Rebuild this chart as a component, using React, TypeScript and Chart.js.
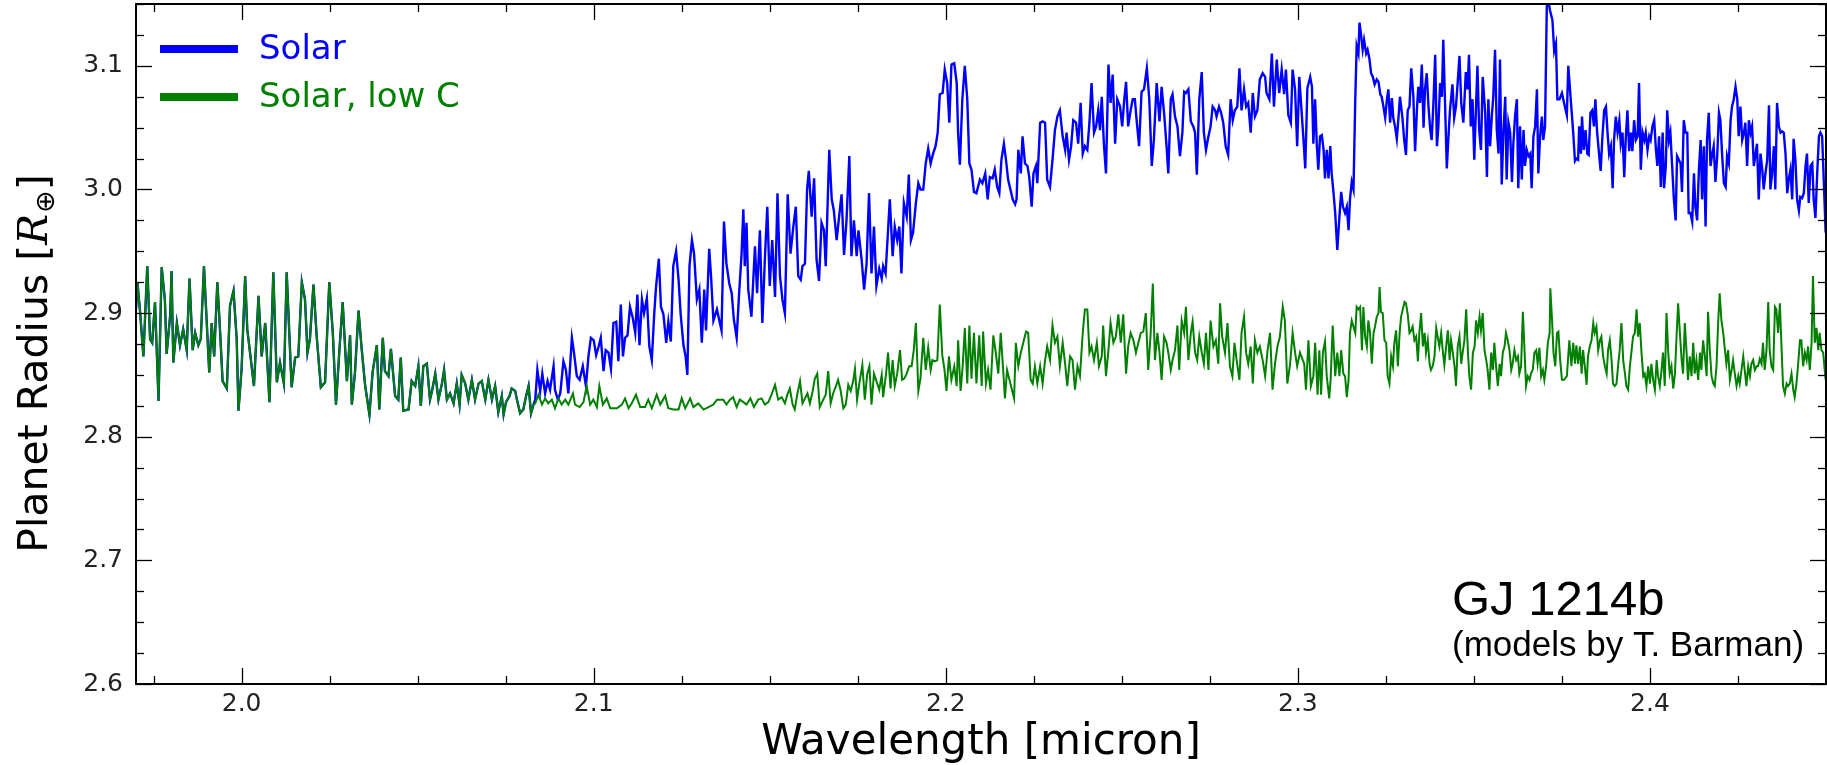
import React, { useEffect, useRef } from "react";
import { Chart, registerables } from "chart.js";

Chart.register(...registerables);

// ---- axis ticks / labels ----
const xTicks = [2.0, 2.1, 2.2, 2.3, 2.4];
const yTicks = [2.6, 2.7, 2.8, 2.9, 3.0, 3.1];
const seriesNames = ["Solar", "Solar, low C"];
const seriesColors = ["#0000ff", "#008000"];
const xTitle = "Wavelength [micron]";
const annotTitle = "GJ 1214b";
const annotSub = "(models by T. Barman)";

// ---- data: [wavelength (micron), planet radius (R_earth)] ----
// part common to both models (1.97 - 2.083 micron)
const sharedPts = [
  [1.9700,2.903],[1.9704,2.925],[1.9711,2.903],[1.9721,2.865],[1.9732,2.938],[1.9740,2.879],[1.9746,2.876],[1.9754,2.909],
  [1.9764,2.829],[1.9773,2.937],[1.9782,2.911],[1.9787,2.867],[1.9797,2.898],[1.9801,2.934],[1.9806,2.860],[1.9816,2.892],
  [1.9825,2.874],[1.9834,2.887],[1.9844,2.870],[1.9852,2.928],[1.9861,2.870],[1.9868,2.884],[1.9877,2.874],[1.9884,2.879],
  [1.9893,2.938],[1.9908,2.852],[1.9915,2.892],[1.9922,2.865],[1.9931,2.925],[1.9937,2.895],[1.9946,2.845],[1.9958,2.839],
  [1.9967,2.906],[1.9977,2.918],[1.9986,2.879],[1.9991,2.821],[2.0000,2.855],[2.0010,2.930],[2.0016,2.887],[2.0026,2.863],
  [2.0035,2.841],[2.0048,2.914],[2.0057,2.865],[2.0067,2.892],[2.0079,2.828],[2.0090,2.933],[2.0100,2.844],[2.0109,2.860],
  [2.0120,2.843],[2.0128,2.933],[2.0142,2.840],[2.0152,2.864],[2.0161,2.865],[2.0171,2.925],[2.0180,2.911],[2.0187,2.868],
  [2.0194,2.879],[2.0204,2.923],[2.0213,2.882],[2.0225,2.840],[2.0237,2.844],[2.0249,2.925],[2.0259,2.884],[2.0268,2.826],
  [2.0278,2.871],[2.0287,2.909],[2.0299,2.845],[2.0308,2.882],[2.0313,2.826],[2.0322,2.852],[2.0332,2.902],[2.0341,2.871],
  [2.0351,2.841],[2.0363,2.818],[2.0372,2.852],[2.0384,2.874],[2.0391,2.822],[2.0401,2.880],[2.0407,2.853],[2.0417,2.849],
  [2.0424,2.871],[2.0436,2.833],[2.0445,2.830],[2.0452,2.864],[2.0459,2.821],[2.0474,2.822],[2.0483,2.845],[2.0493,2.841],
  [2.0502,2.857],[2.0509,2.825],[2.0516,2.857],[2.0526,2.859],[2.0535,2.830],[2.0540,2.836],[2.0550,2.851],[2.0559,2.830],
  [2.0569,2.843],[2.0575,2.854],[2.0583,2.830],[2.0592,2.835],[2.0602,2.827],[2.0611,2.843],[2.0619,2.826],[2.0625,2.850],
  [2.0635,2.843],[2.0644,2.830],[2.0654,2.846],[2.0663,2.830],[2.0673,2.843],[2.0682,2.845],[2.0692,2.830],[2.0701,2.846],
  [2.0711,2.830],[2.0720,2.841],[2.0729,2.820],[2.0739,2.833],[2.0744,2.818],[2.0751,2.828],[2.0761,2.833],[2.0767,2.839],
  [2.0777,2.837],[2.0782,2.830],[2.0791,2.819],[2.0800,2.822],[2.0808,2.833],[2.0815,2.841],[2.0822,2.819],[2.0829,2.826],
];

// "Solar" model after the split
const solarPtsA = [
  [2.0834,2.830],[2.0840,2.854],[2.0848,2.837],[2.0854,2.851],[2.0862,2.835],[2.0869,2.845],[2.0876,2.838],[2.0886,2.857],
  [2.0890,2.838],[2.0898,2.830],[2.0905,2.835],[2.0914,2.861],[2.0921,2.854],[2.0928,2.835],[2.0938,2.880],[2.0944,2.868],
  [2.0952,2.849],[2.0960,2.846],[2.0969,2.857],[2.0978,2.841],[2.0985,2.865],[2.0992,2.880],[2.1000,2.878],[2.1007,2.866],
  [2.1014,2.873],[2.1020,2.880],[2.1028,2.853],[2.1034,2.870],[2.1042,2.868],[2.1049,2.855],[2.1056,2.892],[2.1064,2.893],
  [2.1070,2.861],[2.1077,2.907],[2.1083,2.865],[2.1089,2.880],[2.1096,2.882],[2.1103,2.905],[2.1111,2.896],[2.1118,2.884],
  [2.1124,2.915],[2.1130,2.874],[2.1137,2.911],[2.1143,2.900],[2.1151,2.912],[2.1158,2.873],[2.1165,2.862],[2.1172,2.900],
  [2.1177,2.921],[2.1185,2.944],[2.1191,2.905],[2.1198,2.899],[2.1206,2.876],[2.1212,2.893],[2.1219,2.877],[2.1226,2.938],
  [2.1234,2.950],[2.1241,2.927],[2.1247,2.899],[2.1255,2.874],[2.1261,2.865],[2.1266,2.850],[2.1272,2.938],[2.1279,2.959],
  [2.1285,2.948],[2.1293,2.911],[2.1300,2.919],[2.1307,2.876],[2.1314,2.919],[2.1319,2.886],[2.1328,2.952],[2.1333,2.931],
  [2.1340,2.894],[2.1350,2.903],
];
const solarPtsB = [
  [2.1363,2.886],[2.1370,2.974],[2.1377,2.940],[2.1385,2.924],[2.1392,2.916],[2.1398,2.895],[2.1406,2.880],[2.1413,2.916],
  [2.1420,2.948],[2.1425,2.984],[2.1429,2.938],[2.1434,2.973],[2.1439,2.919],[2.1448,2.897],[2.1458,2.954],[2.1464,2.916],
  [2.1472,2.967],[2.1479,2.892],[2.1486,2.943],[2.1493,2.986],[2.1500,2.922],[2.1507,2.959],[2.1515,2.913],[2.1522,2.997],
  [2.1529,2.930],[2.1536,2.911],[2.1543,2.900],[2.1551,2.996],[2.1559,2.948],[2.1567,2.970],[2.1574,2.986],[2.1581,2.930],
  [2.1588,2.927],[2.1593,2.938],[2.1600,2.940],[2.1606,3.000],[2.1611,3.015],[2.1619,2.978],[2.1626,3.009],[2.1633,2.943],
  [2.1640,2.926],[2.1647,2.973],[2.1654,2.967],[2.1659,2.938],[2.1663,2.975],[2.1669,3.032],[2.1676,2.992],[2.1682,2.983],
  [2.1690,2.959],[2.1697,2.978],[2.1704,2.996],[2.1711,2.947],[2.1718,2.975],[2.1726,3.027],[2.1732,2.946],[2.1739,2.975],
  [2.1747,2.946],[2.1752,2.967],[2.1761,2.943],[2.1768,2.919],[2.1775,2.940],[2.1782,2.997],[2.1789,2.932],[2.1796,2.970],
  [2.1803,2.922],[2.1811,2.936],[2.1818,2.928],[2.1822,2.938],[2.1829,2.932],[2.1836,2.967],[2.1841,2.992],[2.1849,2.946],
  [2.1855,2.970],[2.1862,2.959],[2.1868,2.970],[2.1874,2.932],[2.1881,2.989],[2.1889,2.978],[2.1895,3.012],[2.1901,2.959],
  [2.1907,2.965],[2.1915,2.989],[2.1922,3.005],[2.1928,3.000],[2.1936,3.000],[2.1943,3.021],[2.1950,3.033],[2.1957,3.021],
  [2.1964,3.029],[2.1971,3.035],[2.1977,3.046],[2.1983,3.077],[2.1991,3.078],[2.1997,3.097],[2.2004,3.086],[2.2010,3.054],
  [2.2016,3.101],[2.2024,3.102],[2.2031,3.086],[2.2035,3.046],[2.2040,3.020],[2.2047,3.073],[2.2054,3.100],[2.2061,3.073],
  [2.2067,3.021],[2.2073,3.016],[2.2080,2.998],[2.2087,2.997],[2.2097,3.008],[2.2104,3.005],[2.2112,3.013],[2.2119,2.992],
  [2.2125,3.010],[2.2133,3.009],[2.2139,3.016],[2.2146,3.002],[2.2152,2.997],[2.2158,3.024],[2.2165,3.037],[2.2171,3.024],
  [2.2177,3.008],
];
const solarPtsC = [
  [2.2190,2.992],[2.2197,2.988],[2.2201,2.992],[2.2206,3.032],[2.2213,3.013],[2.2218,3.043],[2.2225,3.021],[2.2232,3.019],
  [2.2237,3.010],[2.2244,2.986],[2.2249,3.013],[2.2256,3.019],[2.2260,3.005],[2.2268,3.054],[2.2275,3.055],[2.2282,3.054],
  [2.2288,3.008],[2.2296,3.002],[2.2304,3.027],[2.2310,3.048],[2.2317,3.059],[2.2324,3.064],[2.2332,3.043],[2.2339,3.032],
  [2.2343,3.046],[2.2350,3.024],[2.2356,3.035],[2.2362,3.056],[2.2370,3.054],[2.2376,3.037],[2.2383,3.070],[2.2389,3.029],
  [2.2395,3.035],[2.2402,3.032],[2.2408,3.054],[2.2414,3.086],[2.2421,3.046],[2.2427,3.051],[2.2433,3.064],[2.2438,3.048],
  [2.2443,3.075],[2.2449,3.037],[2.2455,3.013],[2.2462,3.101],[2.2468,3.070],[2.2474,3.093],[2.2481,3.037],[2.2487,3.073],
  [2.2495,3.067],[2.2501,3.051],[2.2507,3.073],[2.2512,3.087],[2.2518,3.051],[2.2525,3.064],[2.2531,3.073],[2.2537,3.073],
  [2.2542,3.056],[2.2549,3.035],[2.2556,3.079],[2.2563,3.081],[2.2571,3.098],[2.2578,3.073],[2.2585,3.019],[2.2591,3.040],
  [2.2599,3.086],[2.2607,3.055],[2.2613,3.083],[2.2620,3.062],[2.2627,3.035],[2.2632,3.013],[2.2639,3.073],[2.2644,3.077],
  [2.2651,3.059],[2.2658,3.051],[2.2665,3.027],[2.2672,3.046],[2.2677,3.079],[2.2682,3.078],[2.2689,3.081],[2.2696,3.055],
  [2.2703,3.051],[2.2708,3.046],[2.2713,3.012],[2.2720,3.073],[2.2727,3.095],[2.2733,3.046],[2.2739,3.032],[2.2746,3.043],
  [2.2752,3.051],[2.2758,3.067],[2.2765,3.064],[2.2769,3.059],[2.2776,3.067],[2.2782,3.062],[2.2788,3.054],[2.2795,3.035],
  [2.2802,3.028],[2.2809,3.073],[2.2815,3.056],[2.2821,3.064],[2.2828,3.067],[2.2834,3.098],[2.2840,3.064],[2.2847,3.081],
  [2.2853,3.067],[2.2859,3.070],[2.2866,3.046],[2.2872,3.078],[2.2878,3.059],[2.2885,3.064],[2.2892,3.089],[2.2900,3.094],
  [2.2907,3.091],[2.2911,3.078],[2.2919,3.073],[2.2926,3.110],[2.2932,3.067],[2.2940,3.105],[2.2947,3.078],[2.2954,3.097],
  [2.2961,3.077],[2.2966,3.097],[2.2973,3.060],[2.2980,3.054],[2.2985,3.097],[2.2992,3.081],[2.2998,3.035],[2.3004,3.091],
];
const solarPtsD = [
  [2.3016,3.040],[2.3021,3.017],[2.3027,3.082],[2.3035,3.091],[2.3040,3.083],[2.3044,3.037],[2.3049,3.073],[2.3054,3.035],
  [2.3058,3.016],[2.3063,3.043],[2.3068,3.044],[2.3073,3.032],[2.3077,3.009],[2.3082,3.032],[2.3087,3.009],[2.3092,3.035],
  [2.3096,3.013],[2.3101,2.998],[2.3106,2.981],[2.3112,2.951],[2.3118,2.978],[2.3123,2.998],[2.3128,2.986],[2.3134,2.981],
  [2.3139,2.986],[2.3144,2.967],[2.3148,2.992],[2.3153,3.006],[2.3158,3.000],[2.3163,3.073],[2.3167,3.116],[2.3172,3.110],
  [2.3175,3.135],[2.3179,3.126],[2.3184,3.113],[2.3188,3.121],[2.3194,3.110],[2.3198,3.113],[2.3203,3.106],[2.3208,3.094],
  [2.3213,3.091],[2.3218,3.085],[2.3224,3.089],[2.3229,3.087],[2.3234,3.077],[2.3238,3.075],[2.3243,3.067],[2.3248,3.058],
  [2.3253,3.073],[2.3257,3.081],[2.3262,3.054],[2.3267,3.074],[2.3271,3.058],[2.3276,3.051],[2.3281,3.041],[2.3286,3.059],
  [2.3290,3.075],[2.3297,3.058],[2.3302,3.040],[2.3307,3.028],[2.3312,3.064],[2.3317,3.067],[2.3322,3.098],[2.3328,3.075],
  [2.3333,3.031],[2.3338,3.064],[2.3342,3.083],[2.3347,3.070],[2.3352,3.101],[2.3357,3.050],[2.3361,3.081],[2.3366,3.094],
  [2.3371,3.067],[2.3376,3.048],[2.3380,3.040],[2.3385,3.070],[2.3390,3.109],[2.3395,3.035],[2.3399,3.051],[2.3404,3.086],
  [2.3409,3.075],[2.3413,3.121],[2.3418,3.070],[2.3423,3.017],[2.3428,3.044],[2.3432,3.064],[2.3439,3.085],[2.3444,3.058],
  [2.3449,3.067],[2.3454,3.087],[2.3459,3.108],[2.3464,3.070],[2.3470,3.054],[2.3477,3.095],[2.3482,3.081],[2.3486,3.109],
  [2.3491,3.051],[2.3496,3.073],[2.3501,3.024],[2.3505,3.059],[2.3510,3.100],[2.3515,3.048],[2.3520,3.032],[2.3525,3.091],
  [2.3532,3.062],[2.3537,3.010],[2.3541,3.073],[2.3546,3.035],[2.3551,3.060],[2.3555,3.075],[2.3560,3.113],[2.3565,3.048],
  [2.3570,3.029],[2.3574,3.105],[2.3579,3.004],[2.3584,3.048],[2.3589,3.075],[2.3593,3.008],[2.3598,3.054],[2.3603,3.046],
  [2.3608,3.006],[2.3612,3.037],[2.3617,3.060],[2.3622,3.073],[2.3626,3.001],[2.3631,3.051],[2.3636,3.008],[2.3641,3.048],
  [2.3645,3.019],[2.3650,3.032],[2.3655,3.027],[2.3660,3.029],[2.3664,3.001],[2.3669,3.043],[2.3674,3.051],[2.3679,3.081],
  [2.3683,3.013],[2.3688,3.043],[2.3693,3.059],[2.3697,3.040],[2.3702,3.051],[2.3707,3.148],[2.3712,3.152],[2.3716,3.145],
  [2.3723,3.137],[2.3728,3.112],[2.3733,3.118],[2.3737,3.073],[2.3743,3.073],[2.3750,3.078],[2.3756,3.070],[2.3764,3.060],
  [2.3768,3.100],
];
const solarPtsE = [
  [2.3782,3.046],[2.3787,3.023],[2.3791,3.025],[2.3796,3.024],[2.3799,3.051],[2.3804,3.029],[2.3807,3.059],[2.3812,3.032],
  [2.3817,3.048],[2.3822,3.029],[2.3826,3.028],[2.3831,3.062],[2.3836,3.064],[2.3841,3.051],[2.3845,3.073],[2.3850,3.046],
  [2.3856,3.027],[2.3860,3.015],[2.3865,3.043],[2.3870,3.064],[2.3875,3.067],[2.3879,3.048],[2.3884,3.029],[2.3889,3.035],
  [2.3894,3.001],[2.3898,3.040],[2.3903,3.059],[2.3908,3.046],[2.3913,3.056],[2.3917,3.037],[2.3922,3.046],[2.3927,3.010],
  [2.3931,3.040],[2.3936,3.064],[2.3941,3.031],[2.3946,3.046],[2.3950,3.031],[2.3955,3.056],[2.3960,3.040],[2.3965,3.043],
  [2.3969,3.086],[2.3974,3.016],[2.3979,3.046],[2.3984,3.040],[2.3988,3.046],[2.3993,3.032],[2.3998,3.043],[2.4002,3.040],
  [2.4007,3.051],[2.4012,3.056],[2.4017,3.032],[2.4021,3.019],[2.4026,3.043],[2.4031,3.002],[2.4036,3.046],[2.4040,3.001],
  [2.4045,3.019],[2.4049,3.064],[2.4054,3.040],[2.4058,3.046],[2.4063,3.019],[2.4068,2.992],[2.4073,2.975],[2.4077,3.027],
  [2.4082,3.024],[2.4087,3.021],[2.4091,2.998],[2.4096,3.056],[2.4101,3.046],[2.4106,3.046],[2.4110,2.981],[2.4115,2.981],
  [2.4120,2.974],[2.4125,3.013],[2.4129,2.986],[2.4134,2.975],[2.4139,3.016],[2.4144,3.040],[2.4148,2.992],[2.4153,3.035],
  [2.4158,2.970],[2.4162,3.040],[2.4167,3.062],[2.4172,3.019],[2.4177,3.029],[2.4181,3.035],[2.4186,3.006],[2.4191,3.027],
  [2.4196,3.062],[2.4200,3.056],[2.4205,3.028],[2.4210,3.005],[2.4215,3.002],[2.4219,3.027],[2.4224,3.021],[2.4229,3.056],
  [2.4233,3.067],[2.4238,3.073],[2.4243,3.083],[2.4248,3.073],[2.4252,3.043],[2.4257,3.067],[2.4262,3.040],[2.4267,3.046],
  [2.4271,3.054],[2.4276,3.019],[2.4281,3.056],[2.4286,3.046],[2.4290,3.051],[2.4295,3.019],[2.4300,3.029],[2.4304,3.037],
  [2.4309,2.992],[2.4314,3.029],[2.4319,3.016],[2.4323,3.000],[2.4328,3.013],[2.4333,3.024],[2.4338,3.068],[2.4342,3.000],
  [2.4347,3.013],[2.4352,3.035],[2.4356,3.000],[2.4361,3.070],[2.4366,3.051],[2.4371,3.046],[2.4375,3.047],[2.4380,3.046],
  [2.4385,3.029],[2.4390,2.997],[2.4394,3.008],[2.4399,3.016],[2.4404,2.992],[2.4408,3.041],[2.4413,3.024],[2.4418,2.992],
  [2.4423,2.983],[2.4427,2.994],[2.4432,2.993],[2.4437,2.997],[2.4442,3.019],[2.4446,3.029],[2.4451,2.989],[2.4456,3.019],
  [2.4461,3.021],[2.4465,2.992],[2.4470,2.977],[2.4475,3.013],[2.4480,3.043],[2.4484,3.046],[2.4489,3.043],[2.4494,3.005],
  [2.4499,2.965],
];

// "Solar, low C" model after the split
const lowCPtsA = [
  [2.0834,2.827],[2.0843,2.834],[2.0853,2.826],[2.0862,2.831],[2.0871,2.827],[2.0881,2.830],[2.0890,2.823],[2.0900,2.831],
  [2.0909,2.826],[2.0919,2.830],[2.0928,2.826],[2.0941,2.835],[2.0947,2.826],[2.0960,2.824],[2.0971,2.828],[2.0980,2.841],
  [2.0990,2.826],[2.0999,2.830],[2.1009,2.824],[2.1016,2.841],[2.1026,2.826],[2.1037,2.831],[2.1047,2.823],[2.1066,2.823],
  [2.1080,2.826],[2.1089,2.831],[2.1099,2.823],[2.1108,2.827],[2.1120,2.834],[2.1132,2.824],[2.1146,2.824],[2.1155,2.830],
  [2.1165,2.823],[2.1179,2.834],[2.1189,2.826],[2.1203,2.833],[2.1212,2.823],[2.1226,2.822],[2.1241,2.822],[2.1250,2.831],
  [2.1260,2.823],[2.1274,2.831],[2.1283,2.824],[2.1297,2.827],[2.1312,2.822],[2.1326,2.824],[2.1340,2.826],[2.1350,2.830],
];
const lowCPtsB = [
  [2.1368,2.830],[2.1377,2.826],[2.1387,2.830],[2.1396,2.832],[2.1406,2.824],[2.1415,2.830],[2.1425,2.828],[2.1434,2.826],
  [2.1445,2.831],[2.1455,2.824],[2.1467,2.830],[2.1477,2.831],[2.1486,2.826],[2.1496,2.828],[2.1505,2.834],[2.1515,2.842],
  [2.1524,2.830],[2.1534,2.832],[2.1543,2.827],[2.1550,2.834],[2.1557,2.839],[2.1565,2.826],[2.1571,2.822],[2.1578,2.834],
  [2.1586,2.845],[2.1593,2.827],[2.1600,2.831],[2.1607,2.835],[2.1614,2.827],[2.1622,2.837],[2.1628,2.847],[2.1635,2.851],
  [2.1642,2.824],[2.1652,2.830],[2.1659,2.834],[2.1666,2.853],[2.1673,2.827],[2.1680,2.835],[2.1688,2.841],[2.1694,2.846],
  [2.1701,2.838],[2.1709,2.823],[2.1716,2.826],[2.1723,2.842],[2.1730,2.837],[2.1737,2.845],[2.1742,2.855],[2.1748,2.830],
  [2.1756,2.846],[2.1763,2.858],[2.1770,2.830],[2.1777,2.851],[2.1783,2.857],[2.1789,2.826],[2.1796,2.851],[2.1803,2.845],
  [2.1811,2.838],[2.1818,2.850],[2.1822,2.832],[2.1830,2.850],[2.1836,2.868],[2.1843,2.839],[2.1849,2.862],[2.1855,2.841],
  [2.1862,2.851],[2.1870,2.870],[2.1876,2.846],[2.1882,2.847],[2.1889,2.851],[2.1896,2.857],[2.1903,2.857],[2.1909,2.870],
  [2.1915,2.892],[2.1922,2.837],[2.1928,2.847],[2.1936,2.880],[2.1943,2.854],[2.1950,2.872],[2.1957,2.854],[2.1962,2.862],
  [2.1969,2.861],[2.1976,2.862],[2.1983,2.907],[2.1990,2.866],[2.1996,2.855],[2.2002,2.837],[2.2009,2.865],[2.2016,2.846],
  [2.2024,2.857],[2.2031,2.841],[2.2035,2.878],[2.2042,2.837],[2.2048,2.857],[2.2054,2.888],[2.2061,2.843],[2.2067,2.890],
  [2.2073,2.847],[2.2080,2.884],[2.2087,2.843],[2.2095,2.882],[2.2102,2.841],[2.2106,2.885],[2.2114,2.843],[2.2120,2.854],
  [2.2127,2.838],[2.2135,2.882],[2.2142,2.868],[2.2149,2.851],[2.2156,2.884],[2.2163,2.854],[2.2168,2.831],[2.2174,2.854],
];
const lowCPtsC = [
  [2.2194,2.831],[2.2199,2.876],[2.2206,2.857],[2.2213,2.868],[2.2220,2.876],[2.2228,2.885],[2.2234,2.884],[2.2241,2.846],
  [2.2247,2.843],[2.2253,2.857],[2.2260,2.843],[2.2268,2.857],[2.2275,2.843],[2.2282,2.862],[2.2288,2.873],[2.2296,2.862],
  [2.2303,2.890],[2.2310,2.876],[2.2317,2.881],[2.2324,2.857],[2.2332,2.876],[2.2339,2.859],[2.2345,2.841],[2.2353,2.865],
  [2.2360,2.862],[2.2367,2.838],[2.2374,2.857],[2.2381,2.849],[2.2389,2.884],[2.2395,2.903],[2.2402,2.903],[2.2408,2.868],
  [2.2414,2.873],[2.2421,2.862],[2.2429,2.876],[2.2435,2.857],[2.2443,2.865],[2.2447,2.890],[2.2455,2.849],[2.2462,2.870],
  [2.2468,2.892],[2.2476,2.876],[2.2483,2.881],[2.2490,2.899],[2.2497,2.876],[2.2504,2.899],[2.2512,2.851],[2.2518,2.873],
  [2.2525,2.884],[2.2533,2.878],[2.2540,2.868],[2.2547,2.876],[2.2554,2.884],[2.2561,2.885],[2.2568,2.900],[2.2575,2.854],
  [2.2582,2.884],[2.2588,2.924],[2.2594,2.862],[2.2601,2.884],[2.2607,2.868],[2.2613,2.846],[2.2620,2.881],[2.2627,2.876],
  [2.2632,2.868],[2.2639,2.854],[2.2644,2.862],[2.2651,2.870],[2.2658,2.890],[2.2663,2.854],[2.2670,2.894],[2.2677,2.884],
  [2.2682,2.905],[2.2689,2.862],[2.2696,2.884],[2.2701,2.893],[2.2708,2.868],[2.2714,2.862],[2.2720,2.881],[2.2727,2.868],
  [2.2733,2.859],[2.2739,2.884],[2.2746,2.854],[2.2752,2.894],[2.2760,2.873],[2.2767,2.878],[2.2774,2.859],[2.2779,2.908],
  [2.2785,2.881],[2.2793,2.868],[2.2800,2.892],[2.2807,2.857],[2.2814,2.849],[2.2820,2.876],[2.2826,2.862],[2.2834,2.846],
  [2.2840,2.884],[2.2847,2.897],[2.2853,2.868],[2.2859,2.859],[2.2866,2.873],[2.2872,2.843],[2.2878,2.878],[2.2885,2.868],
  [2.2892,2.873],[2.2900,2.862],[2.2907,2.849],[2.2914,2.870],[2.2921,2.884],[2.2928,2.838],[2.2935,2.859],[2.2942,2.873],
  [2.2949,2.881],[2.2957,2.905],[2.2963,2.894],[2.2970,2.843],[2.2978,2.859],[2.2985,2.884],[2.2992,2.868],[2.2998,2.857],
  [2.3006,2.868],
];
const lowCPtsD = [
  [2.3018,2.859],[2.3023,2.838],[2.3030,2.878],[2.3037,2.841],[2.3044,2.849],[2.3049,2.876],[2.3056,2.834],[2.3061,2.870],
  [2.3066,2.834],[2.3071,2.868],[2.3077,2.877],[2.3082,2.849],[2.3089,2.831],[2.3093,2.846],[2.3099,2.890],[2.3106,2.849],
  [2.3112,2.868],[2.3118,2.849],[2.3123,2.870],[2.3129,2.851],[2.3134,2.849],[2.3139,2.832],[2.3144,2.846],[2.3148,2.884],
  [2.3153,2.894],[2.3158,2.889],[2.3163,2.884],[2.3167,2.905],[2.3172,2.903],[2.3177,2.905],[2.3182,2.870],[2.3186,2.905],
  [2.3191,2.881],[2.3196,2.873],[2.3200,2.894],[2.3205,2.884],[2.3210,2.859],[2.3215,2.884],[2.3219,2.889],[2.3224,2.897],
  [2.3229,2.900],[2.3232,2.921],[2.3236,2.901],[2.3241,2.900],[2.3246,2.878],[2.3251,2.876],[2.3255,2.849],[2.3260,2.843],
  [2.3265,2.865],[2.3270,2.857],[2.3274,2.876],[2.3279,2.886],[2.3284,2.857],[2.3289,2.884],[2.3293,2.897],[2.3298,2.903],
  [2.3303,2.909],[2.3307,2.908],[2.3312,2.899],[2.3317,2.884],[2.3322,2.886],[2.3326,2.889],[2.3331,2.878],[2.3336,2.881],
  [2.3341,2.861],[2.3345,2.884],[2.3350,2.900],[2.3355,2.873],[2.3360,2.884],[2.3364,2.868],[2.3369,2.878],[2.3374,2.859],
  [2.3378,2.854],[2.3383,2.857],[2.3388,2.865],[2.3393,2.888],[2.3397,2.881],[2.3402,2.873],[2.3407,2.884],[2.3412,2.868],
  [2.3416,2.858],[2.3421,2.873],[2.3426,2.886],[2.3431,2.862],[2.3435,2.878],[2.3440,2.868],[2.3445,2.857],[2.3449,2.841],
  [2.3454,2.873],[2.3459,2.881],[2.3464,2.859],[2.3468,2.868],[2.3473,2.878],[2.3478,2.903],[2.3483,2.868],[2.3487,2.849],
  [2.3492,2.838],[2.3497,2.868],[2.3502,2.873],[2.3506,2.894],[2.3511,2.884],[2.3516,2.897],[2.3520,2.886],[2.3525,2.900],
  [2.3530,2.870],[2.3535,2.862],[2.3539,2.854],[2.3544,2.838],[2.3549,2.868],[2.3554,2.854],[2.3558,2.876],[2.3563,2.857],
  [2.3568,2.841],[2.3573,2.859],[2.3577,2.849],[2.3582,2.868],[2.3587,2.873],[2.3591,2.884],[2.3596,2.878],[2.3601,2.870],
  [2.3606,2.854],[2.3610,2.859],[2.3615,2.870],[2.3620,2.862],[2.3625,2.865],[2.3629,2.851],[2.3634,2.857],[2.3639,2.901],
  [2.3644,2.868],[2.3648,2.841],[2.3653,2.849],[2.3658,2.846],[2.3662,2.851],[2.3667,2.854],[2.3672,2.868],[2.3677,2.870],
  [2.3681,2.859],[2.3686,2.872],[2.3691,2.849],[2.3696,2.854],[2.3700,2.846],[2.3705,2.857],[2.3710,2.876],[2.3715,2.884],
  [2.3717,2.920],[2.3722,2.894],[2.3726,2.868],[2.3731,2.857],[2.3736,2.884],[2.3740,2.885],[2.3745,2.862],[2.3750,2.846],
  [2.3756,2.846],[2.3764,2.849],[2.3771,2.878],
];
const lowCPtsE = [
  [2.3777,2.857],[2.3782,2.876],[2.3787,2.859],[2.3791,2.874],[2.3796,2.859],[2.3801,2.873],[2.3806,2.851],[2.3810,2.870],
  [2.3815,2.857],[2.3820,2.842],[2.3824,2.865],[2.3829,2.873],[2.3834,2.878],[2.3839,2.892],[2.3843,2.884],[2.3848,2.889],
  [2.3853,2.870],[2.3858,2.878],[2.3862,2.881],[2.3867,2.865],[2.3872,2.857],[2.3877,2.851],[2.3881,2.870],[2.3886,2.878],
  [2.3891,2.862],[2.3895,2.843],[2.3900,2.841],[2.3905,2.843],[2.3910,2.859],[2.3914,2.870],[2.3919,2.892],[2.3924,2.862],
  [2.3929,2.851],[2.3933,2.841],[2.3938,2.838],[2.3943,2.857],[2.3948,2.870],[2.3952,2.881],[2.3957,2.884],[2.3962,2.903],
  [2.3966,2.881],[2.3971,2.892],[2.3976,2.868],[2.3981,2.849],[2.3985,2.851],[2.3990,2.841],[2.3995,2.857],[2.4000,2.843],
  [2.4004,2.859],[2.4009,2.846],[2.4014,2.838],[2.4019,2.862],[2.4023,2.849],[2.4028,2.841],[2.4033,2.854],[2.4037,2.868],
  [2.4042,2.841],[2.4047,2.900],[2.4052,2.868],[2.4056,2.851],[2.4061,2.857],[2.4066,2.839],[2.4071,2.851],[2.4075,2.878],
  [2.4080,2.908],[2.4085,2.884],[2.4090,2.862],[2.4094,2.851],[2.4099,2.892],[2.4104,2.868],[2.4108,2.846],[2.4113,2.865],
  [2.4118,2.849],[2.4123,2.876],[2.4127,2.851],[2.4132,2.862],[2.4137,2.846],[2.4142,2.868],[2.4146,2.854],[2.4151,2.878],
  [2.4156,2.865],[2.4161,2.849],[2.4165,2.901],[2.4170,2.870],[2.4175,2.849],[2.4180,2.843],[2.4184,2.841],[2.4189,2.857],
  [2.4194,2.894],[2.4198,2.916],[2.4203,2.894],[2.4208,2.884],[2.4213,2.870],[2.4217,2.859],[2.4222,2.870],[2.4227,2.846],
  [2.4232,2.854],[2.4236,2.862],[2.4241,2.851],[2.4246,2.841],[2.4251,2.849],[2.4255,2.843],[2.4260,2.854],[2.4265,2.865],
  [2.4269,2.854],[2.4274,2.841],[2.4279,2.857],[2.4284,2.849],[2.4288,2.859],[2.4293,2.862],[2.4298,2.854],[2.4303,2.857],
  [2.4307,2.857],[2.4312,2.863],[2.4317,2.859],[2.4321,2.876],[2.4326,2.854],[2.4331,2.870],[2.4336,2.909],[2.4340,2.870],
  [2.4345,2.857],[2.4350,2.854],[2.4355,2.905],[2.4359,2.903],[2.4364,2.884],[2.4369,2.908],[2.4374,2.870],[2.4378,2.841],
  [2.4383,2.835],[2.4388,2.843],[2.4392,2.841],[2.4397,2.843],[2.4402,2.851],[2.4407,2.838],[2.4411,2.832],[2.4416,2.843],
  [2.4421,2.859],[2.4426,2.878],[2.4430,2.878],[2.4435,2.857],[2.4440,2.868],[2.4445,2.862],[2.4449,2.873],[2.4454,2.854],
  [2.4459,2.876],[2.4463,2.930],[2.4468,2.876],[2.4473,2.888],[2.4478,2.870],[2.4482,2.884],[2.4487,2.870],[2.4492,2.868],
  [2.4499,2.846],
];

const solarSeries = [...sharedPts, ...solarPtsA, ...solarPtsB, ...solarPtsC, ...solarPtsD, ...solarPtsE];
const lowCSeries = [...sharedPts, ...lowCPtsA, ...lowCPtsB, ...lowCPtsC, ...lowCPtsD, ...lowCPtsE];

const SANS = '"DejaVu Sans", "Noto Sans", sans-serif';
const ARIAL = '"Liberation Sans", Arial, sans-serif';

const zeroPad = (s: any) => {
  s.paddingTop = 0;
  s.paddingBottom = 0;
  s.paddingLeft = 0;
  s.paddingRight = 0;
};

const decorPlugin = {
  id: "decor",
  afterDatasetsDraw(chart: any) {
    const { ctx, chartArea: a, scales } = chart;
    const x = scales.x;
    const y = scales.y;
    ctx.save();
    ctx.strokeStyle = "#000";
    ctx.lineWidth = 1.3;
    const seg = (x1: number, y1: number, x2: number, y2: number) => {
      ctx.beginPath();
      ctx.moveTo(x1, y1);
      ctx.lineTo(x2, y2);
      ctx.stroke();
    };
    const step = 0.025;
    const isMajor = (v: number, list: number[]) => list.some((t) => Math.abs(t - v) < 1e-6);
    for (let i = Math.ceil(x.min / step - 1e-6); i * step <= x.max + 1e-6; i++) {
      const v = i * step;
      const px = Math.round(x.getPixelForValue(v)) + 0.5;
      const len = isMajor(v, xTicks) ? 16 : 8;
      seg(px, a.bottom, px, a.bottom - len);
      seg(px, a.top, px, a.top + len);
    }
    for (let i = Math.ceil(y.min / step - 1e-6); i * step <= y.max + 1e-6; i++) {
      const v = i * step;
      const py = Math.round(y.getPixelForValue(v)) + 0.5;
      const len = isMajor(v, yTicks) ? 16 : 8;
      seg(a.left, py, a.left + len, py);
      seg(a.right, py, a.right - len, py);
    }
    // frame
    ctx.lineWidth = 2;
    ctx.strokeRect(a.left, a.top, a.right - a.left, a.bottom - a.top);
    ctx.restore();
  },
  afterDraw(chart: any) {
    const { ctx, chartArea: a } = chart;
    ctx.save();
    // legend
    const legendY = [49, 97];
    seriesNames.forEach((name, i) => {
      ctx.strokeStyle = seriesColors[i];
      ctx.lineWidth = 8;
      ctx.beginPath();
      ctx.moveTo(a.left + 24, legendY[i]);
      ctx.lineTo(a.left + 102, legendY[i]);
      ctx.stroke();
      ctx.fillStyle = seriesColors[i];
      ctx.font = `34px ${SANS}`;
      ctx.textBaseline = "middle";
      ctx.textAlign = "left";
      ctx.fillText(name, a.left + 123, legendY[i] + 1);
    });
    // x title
    ctx.fillStyle = "#000";
    ctx.font = `42px ${SANS}`;
    ctx.textAlign = "center";
    ctx.textBaseline = "alphabetic";
    ctx.fillText(xTitle, (a.left + a.right) / 2, 754);
    // y title with math part
    ctx.save();
    ctx.translate(47, 364);
    ctx.rotate(-Math.PI / 2);
    const parts = [
      { t: "Planet Radius [", f: `41px ${SANS}`, dy: 0 },
      { t: "R", f: `italic 41px "DejaVu Serif", "Liberation Serif", serif`, dy: 0 },
      { t: "\u2295", f: `27px ${SANS}`, dy: 7 },
      { t: "]", f: `41px ${SANS}`, dy: 0 },
    ];
    let total = 0;
    const widths = parts.map((p) => {
      ctx.font = p.f;
      const w = ctx.measureText(p.t).width;
      total += w;
      return w;
    });
    let cx = -total / 2;
    ctx.textAlign = "left";
    parts.forEach((p, i) => {
      ctx.font = p.f;
      ctx.fillText(p.t, cx, p.dy);
      cx += widths[i] + (i === 1 ? 1 : 0);
    });
    ctx.restore();
    // annotation
    ctx.textAlign = "left";
    ctx.font = `49px ${ARIAL}`;
    ctx.fillText(annotTitle, 1452, 615);
    ctx.font = `35px ${ARIAL}`;
    ctx.fillText(annotSub, 1452, 656);
    ctx.restore();
  },
};

export default function App() {
  const ref = useRef<HTMLCanvasElement | null>(null);
  useEffect(() => {
    if (!ref.current) return;
    const chart = new Chart(ref.current, {
      type: "line",
      data: {
        datasets: [
          {
            label: seriesNames[0],
            data: solarSeries.map(([w, r]) => ({ x: w, y: r })),
            borderColor: seriesColors[0],
            borderWidth: 2.4,
            pointRadius: 0,
            tension: 0,
            fill: false,
            order: 2,
          },
          {
            label: seriesNames[1],
            data: lowCSeries.map(([w, r]) => ({ x: w, y: r })),
            borderColor: seriesColors[1],
            borderWidth: 2,
            pointRadius: 0,
            tension: 0,
            fill: false,
            order: 1,
          },
        ],
      },
      options: {
        animation: false,
        responsive: false,
        events: [],
        layout: { padding: { top: 4, right: 1, left: 0, bottom: 0 } },
        plugins: { legend: { display: false }, tooltip: { enabled: false } },
        scales: {
          x: {
            type: "linear",
            min: 1.97,
            max: 2.45,
            afterBuildTicks: (s: any) => {
              s.ticks = xTicks.map((v) => ({ value: v }));
            },
            afterFit: (s: any) => {
              s.height = 81;
              zeroPad(s);
            },
            grid: { display: false, drawTicks: false },
            border: { display: false },
            ticks: {
              autoSkip: false,
              maxRotation: 0,
              padding: 5,
              color: "#222",
              font: { family: SANS, size: 25 },
              callback: (v: any) => Number(v).toFixed(1),
            },
          },
          y: {
            type: "linear",
            min: 2.6,
            max: 3.15,
            afterBuildTicks: (s: any) => {
              s.ticks = yTicks.map((v) => ({ value: v }));
            },
            afterFit: (s: any) => {
              s.width = 136;
              zeroPad(s);
            },
            grid: { display: false, drawTicks: false },
            border: { display: false },
            ticks: {
              autoSkip: false,
              padding: 13,
              color: "#222",
              font: { family: SANS, size: 25 },
              callback: (v: any) => Number(v).toFixed(1),
            },
          },
        },
      },
      plugins: [decorPlugin],
    } as any);
    return () => chart.destroy();
  }, []);
  return (
    <div style={{ position: "fixed", left: 0, top: 0, width: 1827, height: 765, background: "#fff" }}>
      <canvas ref={ref} width={1827} height={765} style={{ display: "block" }} />
    </div>
  );
}
